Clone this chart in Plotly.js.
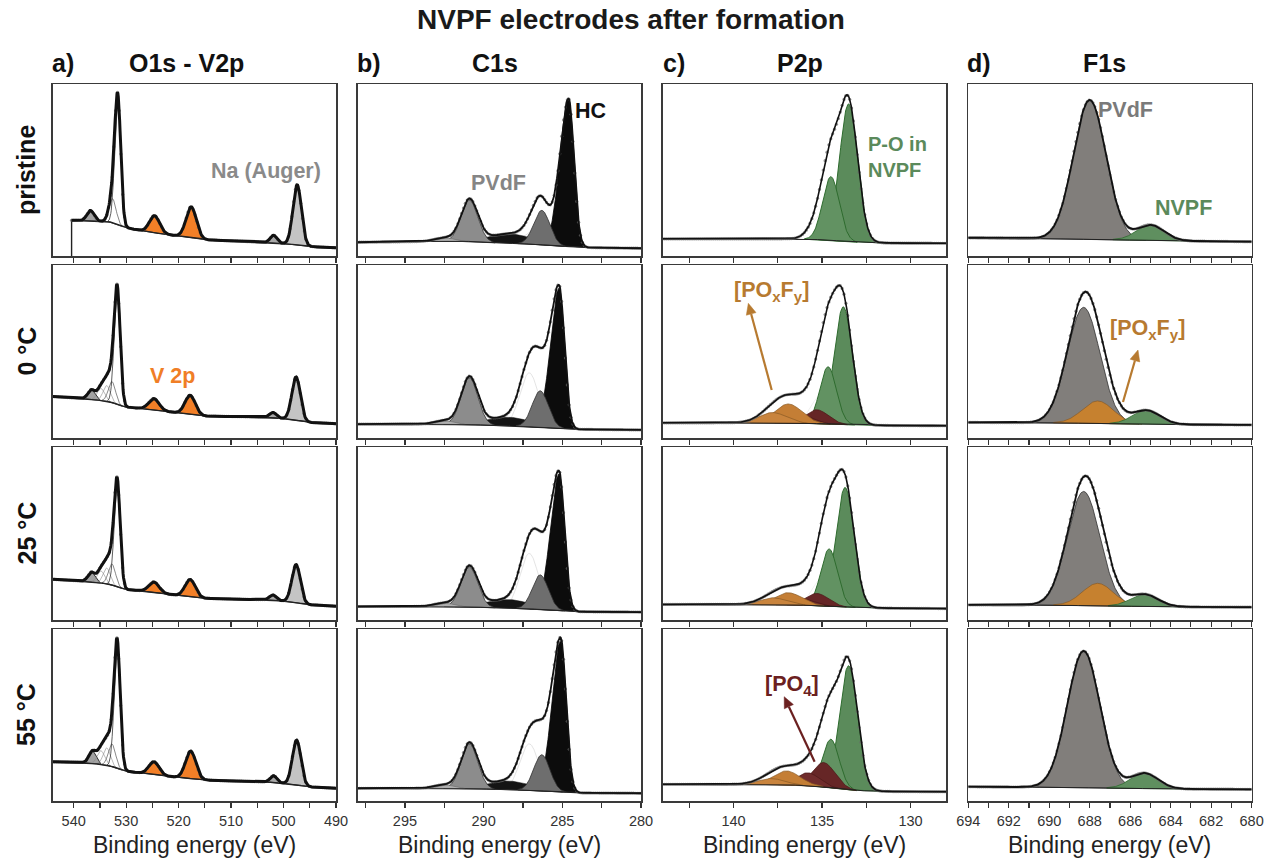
<!DOCTYPE html>
<html>
<head>
<meta charset="utf-8">
<script src="https://cdn.plot.ly/plotly-3.0.1.min.js"></script>
<style>
  html, body { margin: 0; padding: 0; background: #ffffff; }
  #chart { width: 1276px; height: 863px; }
</style>
</head>
<body>
<div id="chart"></div>
<script>
// ---------------- DATA ----------------
const ROW_LABELS = ["pristine", "0 °C", "25 °C", "55 °C"];
const PANEL_LETTERS = ["a)", "b)", "c)", "d)"];
const PANEL_TITLES = ["O1s - V2p", "C1s", "P2p", "F1s"];

const X_RANGES = [[544, 490], [298, 280], [144, 128], [694, 680]];
const X_TICKS_O1S = [540, 530, 520, 510, 500, 490];
const X_TICKS_C1S = [295, 290, 285, 280];
const X_TICKS_P2P = [140, 135, 130];
const X_TICKS_F1S = [694, 692, 690, 688, 686, 684, 682, 680];

// ---- O1s - V2p (binding energy eV, intensity as fraction of panel height) ----
const O1S_COMPONENTS = ["O1s satellite", "O1s c3", "O1s c2", "O1s c1", "O1s main", "V 2p1/2", "V 2p3/2", "Na KLL minor", "Na KLL"];
const O1S_CENTERS = [
  [536.8, 534.8, 533.7, 532.6, 531.6, 524.6, 517.6, 501.9, 497.4],
  [536.6, 534.8, 533.7, 532.7, 531.7, 524.7, 517.8, 502.0, 497.6],
  [536.6, 534.8, 533.7, 532.7, 531.7, 524.7, 517.8, 502.0, 497.6],
  [536.4, 534.8, 533.7, 532.7, 531.7, 524.7, 517.7, 501.9, 497.5]
];
const O1S_HEIGHTS = [
  [0.06, 0.00, 0.00, 0.14, 0.72, 0.10, 0.18, 0.045, 0.35],
  [0.055, 0.07, 0.09, 0.12, 0.65, 0.065, 0.11, 0.03, 0.25],
  [0.055, 0.07, 0.09, 0.12, 0.59, 0.06, 0.10, 0.03, 0.22],
  [0.07, 0.08, 0.10, 0.13, 0.71, 0.075, 0.16, 0.04, 0.26]
];
const O1S_FWHM = [1.6, 1.6, 1.6, 1.6, 1.35, 2.3, 2.3, 1.5, 1.9];
const O1S_BG_E = [544, 537, 533, 530.5, 526, 521, 515, 508, 503, 499, 495, 490];
const O1S_BG_I = [
  [0.21, 0.205, 0.198, 0.168, 0.14, 0.12, 0.095, 0.085, 0.078, 0.07, 0.055, 0.048],
  [0.24, 0.225, 0.21, 0.18, 0.168, 0.148, 0.127, 0.123, 0.12, 0.11, 0.09, 0.083],
  [0.235, 0.222, 0.207, 0.178, 0.165, 0.145, 0.125, 0.12, 0.117, 0.107, 0.088, 0.08],
  [0.228, 0.222, 0.205, 0.176, 0.158, 0.14, 0.122, 0.115, 0.11, 0.10, 0.082, 0.074]
];
const O1S_START = [540.4, 544, 544, 544];

// ---- C1s ----
const C1S_COMPONENTS = ["C-O", "C=O tail", "HC", "PVdF CH2", "PVdF CF2", "CF3"];
const C1S_CENTERS = [
  [286.8, 288.3, 284.6, 286.3, 290.9, 292.5],
  [287.1, 288.4, 285.2, 286.4, 290.9, 292.5],
  [287.1, 288.4, 285.2, 286.4, 290.9, 292.5],
  [287.1, 288.4, 285.1, 286.3, 290.9, 292.5]
];
const C1S_HEIGHTS = [
  [0.08, 0.055, 0.86, 0.20, 0.24, 0.02],
  [0.31, 0.05, 0.81, 0.21, 0.27, 0.02],
  [0.32, 0.05, 0.79, 0.20, 0.23, 0.02],
  [0.27, 0.05, 0.88, 0.21, 0.26, 0.02]
];
const C1S_FWHM_LOW = [1.4, 3.2, 0.8, 1.2, 1.25, 1.5];
const C1S_FWHM_HIGH = [1.4, 3.2, 1.3, 1.2, 1.25, 1.5];
const C1S_BG_E = [298, 293, 291, 289, 287, 285.5, 284, 280];
const C1S_BG_I = [
  [0.08, 0.085, 0.085, 0.075, 0.07, 0.06, 0.05, 0.045],
  [0.08, 0.08, 0.078, 0.072, 0.066, 0.058, 0.05, 0.047],
  [0.078, 0.078, 0.076, 0.07, 0.064, 0.056, 0.048, 0.046],
  [0.074, 0.074, 0.072, 0.068, 0.062, 0.055, 0.047, 0.045]
];

// ---- P2p ----
const P2P_COMPONENTS = ["P2p unfilled", "NVPF 2p3/2", "NVPF 2p1/2", "PO4 1", "PO4 2", "POxFy 1", "POxFy 2"];
const P2P_CENTERS = [
  [135.0, 133.5, 134.5, 135.2, 136.1, 136.9, 138.0],
  [135.0, 133.8, 134.66, 135.3, 136.1, 136.9, 137.8],
  [134.9, 133.7, 134.6, 135.3, 136.1, 136.9, 137.8],
  [134.9, 133.5, 134.5, 134.9, 135.8, 137.0, 137.9]
];
const P2P_HEIGHTS = [
  [0.15, 0.80, 0.37, 0.00, 0.00, 0.00, 0.00],
  [0.17, 0.68, 0.33, 0.08, 0.045, 0.11, 0.06],
  [0.17, 0.69, 0.33, 0.07, 0.035, 0.07, 0.04],
  [0.06, 0.72, 0.28, 0.14, 0.075, 0.08, 0.035]
];
const P2P_FWHM = [1.4, 1.2, 1.1, 1.5, 1.5, 1.8, 1.8];
const P2P_BG_E = [144, 140, 137, 135, 133, 131, 128];
const P2P_BG_I = [
  [0.10, 0.10, 0.10, 0.095, 0.08, 0.075, 0.074],
  [0.088, 0.088, 0.087, 0.083, 0.075, 0.072, 0.071],
  [0.09, 0.09, 0.088, 0.083, 0.072, 0.068, 0.066],
  [0.097, 0.097, 0.095, 0.085, 0.06, 0.055, 0.054]
];

// ---- F1s ----
const F1S_COMPONENTS = ["PVdF", "POxFy", "NVPF"];
const F1S_CENTERS = [
  [688.0, 687.6, 685.0],
  [688.3, 687.6, 685.2],
  [688.3, 687.6, 685.3],
  [688.3, 687.6, 685.3]
];
const F1S_HEIGHTS = [
  [0.81, 0.00, 0.09],
  [0.67, 0.13, 0.08],
  [0.66, 0.13, 0.07],
  [0.795, 0.00, 0.09]
];
const F1S_FWHM = [1.9, 1.8, 1.6];
const F1S_BG_E = [694, 690, 687, 684, 680];
const F1S_BG_I = [
  [0.106, 0.10, 0.095, 0.088, 0.083],
  [0.09, 0.088, 0.083, 0.078, 0.076],
  [0.088, 0.086, 0.081, 0.076, 0.074],
  [0.083, 0.08, 0.075, 0.07, 0.068]
];

// ---------------- STYLES / LAYOUT ----------------
const FONT = "Liberation Sans, Arial, sans-serif";
const W = 1276, H = 863;
const COL_X = [52.7, 357.7, 662.7, 968.3];
const COL_W = 283.3;
const ROW_Y = [[84, 256], [265, 438], [447, 620], [629, 801]];

const STYLE = {
  "O1s satellite": {fill: "#a2a2a2", line: "#2a2a2a", w: 1},
  "O1s c3": {fill: "rgba(255,255,255,0)", line: "#8c8c8c", w: 0.6},
  "O1s c2": {fill: "rgba(255,255,255,0)", line: "#8c8c8c", w: 0.6},
  "O1s c1": {fill: "rgba(255,255,255,0)", line: "#555555", w: 0.7},
  "O1s main": {fill: "rgba(255,255,255,0)", line: "#333333", w: 0.8},
  "V 2p1/2": {fill: "#f27f27", line: "#2a2a2a", w: 1},
  "V 2p3/2": {fill: "#f27f27", line: "#2a2a2a", w: 1},
  "Na KLL minor": {fill: "#a8a8a8", line: "#2a2a2a", w: 1},
  "Na KLL": {fill: "#c4c4c4", line: "#2a2a2a", w: 1},
  "C-O": {fill: "#ffffff", line: "#d2d2d2", w: 0.6},
  "C=O tail": {fill: "#141414", line: "#141414", w: 0.5},
  "HC": {fill: "#0c0c0c", line: "#000000", w: 0.8},
  "PVdF CH2": {fill: "#6e6e6e", line: "#303030", w: 0.8},
  "PVdF CF2": {fill: "#8c8c8c", line: "#303030", w: 0.8},
  "CF3": {fill: "#b0b0b0", line: "#666666", w: 0.6},
  "P2p unfilled": {fill: "#ffffff", line: "#e0e0e0", w: 0.5},
  "NVPF 2p3/2": {fill: "#5b8b5b", line: "#2e6b2e", w: 1},
  "NVPF 2p1/2": {fill: "#629262", line: "#2e6b2e", w: 1},
  "PO4 1": {fill: "#662626", line: "#4a1717", w: 0.7},
  "PO4 2": {fill: "#702c2c", line: "#4a1717", w: 0.7},
  "POxFy 1": {fill: "#c47e35", line: "#8a5a25", w: 0.7},
  "POxFy 2": {fill: "#c9843d", line: "#8a5a25", w: 0.7},
  "PVdF": {fill: "#817e7b", line: "#303030", w: 0.8},
  "POxFy": {fill: "#c6812f", line: "#8a5a25", w: 0.7},
  "NVPF": {fill: "#5f8f5f", line: "#2e6b2e", w: 0.8}
};
const ENV_WIDTH = [3, 1.8, 1.6, 1.8];
const BG_WIDTH = [1.4, 1, 1, 1];

// ---------------- helpers ----------------
function interp(x, xs, ys) {
  if (x >= xs[0]) return ys[0];
  for (let i = 1; i < xs.length; i++) {
    if (x >= xs[i]) {
      const t = (x - xs[i - 1]) / (xs[i] - xs[i - 1]);
      return ys[i - 1] + t * (ys[i] - ys[i - 1]);
    }
  }
  return ys[ys.length - 1];
}
function peak(x, c, h, wLow, wHigh) {
  const w = x > c ? wHigh : wLow;
  return h * Math.exp(-4 * Math.LN2 * (x - c) * (x - c) / (w * w));
}

const COLUMNS = [
  {names: O1S_COMPONENTS, c: O1S_CENTERS, h: O1S_HEIGHTS, wl: O1S_FWHM, wh: O1S_FWHM, bgE: O1S_BG_E, bgI: O1S_BG_I, ticks: X_TICKS_O1S, minor: 5},
  {names: C1S_COMPONENTS, c: C1S_CENTERS, h: C1S_HEIGHTS, wl: C1S_FWHM_LOW, wh: C1S_FWHM_HIGH, bgE: C1S_BG_E, bgI: C1S_BG_I, ticks: X_TICKS_C1S, minor: 2.5},
  {names: P2P_COMPONENTS, c: P2P_CENTERS, h: P2P_HEIGHTS, wl: P2P_FWHM, wh: P2P_FWHM, bgE: P2P_BG_E, bgI: P2P_BG_I, ticks: X_TICKS_P2P, minor: 2.5},
  {names: F1S_COMPONENTS, c: F1S_CENTERS, h: F1S_HEIGHTS, wl: F1S_FWHM, wh: F1S_FWHM, bgE: F1S_BG_E, bgI: F1S_BG_I, ticks: X_TICKS_F1S, minor: 1}
];

const traces = [];
const layout = {
  width: W, height: H,
  margin: {l: 0, r: 0, t: 0, b: 0},
  paper_bgcolor: "#ffffff", plot_bgcolor: "#ffffff",
  showlegend: false,
  font: {family: FONT, color: "#222"},
  annotations: [],
  shapes: []
};

for (let r = 0; r < 4; r++) {
  for (let col = 0; col < 4; col++) {
    const n = r * 4 + col + 1;
    const xa = "x" + (n === 1 ? "" : n), ya = "y" + (n === 1 ? "" : n);
    const C = COLUMNS[col];
    const range = X_RANGES[col];
    const start = col === 0 ? O1S_START[r] : range[0];
    const end = range[1];
    const N = 600;
    const xs = [];
    for (let i = 0; i <= N; i++) xs.push(start + (end - start) * i / N);
    const bg = xs.map(x => interp(x, C.bgE, C.bgI[r]));
    const env = bg.slice();
    C.names.forEach((name, k) => {
      const h = C.h[r][k];
      if (h <= 0) return;
      const vals = xs.map(x => peak(x, C.c[r][k], h, C.wl[k], C.wh[k]));
      vals.forEach((v, i) => env[i] += v);
      const px = [], py = [], idx = [];
      vals.forEach((v, i) => { if (v > 0.002) idx.push(i); });
      idx.forEach(i => { px.push(xs[i]); py.push(bg[i] + vals[i]); });
      for (let j = idx.length - 1; j >= 0; j--) { px.push(xs[idx[j]]); py.push(bg[idx[j]]); }
      const st = STYLE[name];
      traces.push({
        type: "scatter", mode: "lines", x: px, y: py, xaxis: xa, yaxis: ya,
        fill: "toself", fillcolor: st.fill,
        line: {color: st.line, width: st.w}, hoverinfo: "skip", name: name
      });
    });
    const bx = xs.slice(), by = bg.slice();
    if (col === 0 && start < range[0]) { bx.unshift(start); by.unshift(0); }
    traces.push({type: "scatter", mode: "lines", x: bx, y: by, xaxis: xa, yaxis: ya,
      line: {color: "#222", width: BG_WIDTH[col]}, hoverinfo: "skip"});
    const dx = [], dy = [];
    xs.forEach((x, i) => { if (i % 4 === 0) { dx.push(x); dy.push(env[i]); } });
    traces.push({type: "scatter", mode: "markers", x: dx, y: dy, xaxis: xa, yaxis: ya,
      marker: {color: "rgba(105,105,105,0.75)", size: 3.2}, hoverinfo: "skip"});
    traces.push({type: "scatter", mode: "lines", x: xs, y: env, xaxis: xa, yaxis: ya,
      line: {color: "#111", width: ENV_WIDTH[col]}, hoverinfo: "skip"});

    const x0 = COL_X[col] / W, x1 = (COL_X[col] + COL_W) / W;
    const y0 = 1 - ROW_Y[r][1] / H, y1 = 1 - ROW_Y[r][0] / H;
    layout["xaxis" + (n === 1 ? "" : n)] = {
      domain: [x0, x1], anchor: ya, range: range, autorange: false,
      tickmode: "array", tickvals: C.ticks, ticktext: C.ticks.map(String),
      ticks: "outside", ticklen: 5, tickwidth: 1.2, tickcolor: "#333",
      minor: {dtick: C.minor, tick0: 0, ticks: "outside", ticklen: 5, tickwidth: 1.2, tickcolor: "#333", showgrid: false},
      showticklabels: r === 3, ticklabelstandoff: 1,
      tickfont: {family: FONT, size: 14.5, color: "#333"},
      showline: true, mirror: true, linecolor: "#3a3a3a", linewidth: 1.5,
      showgrid: false, zeroline: false, fixedrange: true
    };
    layout["yaxis" + (n === 1 ? "" : n)] = {
      domain: [y0, y1], anchor: xa, range: [0, 1], autorange: false,
      showticklabels: false, ticks: "", showline: true, mirror: true,
      linecolor: "#3a3a3a", linewidth: 1.5, showgrid: false, zeroline: false, fixedrange: true
    };
  }
}

// ---------------- text ----------------
const A = layout.annotations;
function txt(text, px, py, size, color, extra) {
  A.push(Object.assign({text: text, x: px / W, y: 1 - py / H, xref: "paper", yref: "paper",
    showarrow: false, xanchor: "center", yanchor: "middle",
    font: {family: FONT, size: size, color: color}}, extra || {}));
}
function arrow(tx, ty, hx, hy, color) {
  const L = Math.hypot(hx - tx, hy - ty);
  const ux = (hx - tx) / L, uy = (hy - ty) / L;
  const bxp = hx - ux * 11, byp = hy - uy * 11;
  const nx = -uy, ny = ux;
  const P = (x, y) => (x / W) + "," + (1 - y / H);
  layout.shapes.push({type: "line", xref: "paper", yref: "paper",
    x0: tx / W, y0: 1 - ty / H, x1: bxp / W, y1: 1 - byp / H, line: {color: color, width: 2.2}});
  layout.shapes.push({type: "path", xref: "paper", yref: "paper",
    path: "M" + P(hx, hy) + " L" + P(bxp + nx * 5, byp + ny * 5) + " L" + P(bxp - nx * 5, byp - ny * 5) + " Z",
    fillcolor: color, line: {color: color, width: 0.5}});
}
txt("<b>NVPF electrodes after formation</b>", 631, 20, 28, "#1a1a1a");
const HEAD_LETTER_X = [63, 369, 674, 979];
const HEAD_TITLE_X = [187, 495, 800, 1104];
for (let c = 0; c < 4; c++) {
  txt("<b>" + PANEL_LETTERS[c] + "</b>", HEAD_LETTER_X[c], 63, 25, "#111");
  txt("<b>" + PANEL_TITLES[c] + "</b>", HEAD_TITLE_X[c], 63, 25, "#111");
  txt("Binding energy (eV)", (COL_X[c] + COL_W / 2), 845, 23, "#222");
}
for (let r = 0; r < 4; r++) {
  txt("<b>" + ROW_LABELS[r] + "</b>", 26, (ROW_Y[r][0] + ROW_Y[r][1]) / 2, 25, "#111", {textangle: -90});
}
txt("<b>Na (Auger)</b>", 266, 171, 21.5, "#8a8a8a");
txt("<b>V 2p</b>", 172, 376, 21.5, "#f07e26");
txt("<b>PVdF</b>", 498, 183, 21.5, "#858585");
txt("<b>HC</b>", 590, 111, 21.5, "#111");
txt("<b>P-O in<br>NVPF</b>", 897, 157, 20, "#5b8a5b", {align: "left"});
txt("<b>PVdF</b>", 1125, 110, 21.5, "#7a7a7a");
txt("<b>NVPF</b>", 1183, 208, 21.5, "#5b8a5b");
txt("<b>[PO<sub>x</sub>F<sub>y</sub>]</b>", 771, 291, 21.5, "#b77a30");
arrow(771.7, 390, 748.3, 303.3, "#b77a30");
txt("<b>[PO<sub>x</sub>F<sub>y</sub>]</b>", 1147, 330, 21.5, "#b77a30");
arrow(1123, 402, 1138, 350, "#b77a30");
txt("<b>[PO<sub>4</sub>]</b>", 792, 685, 21.5, "#6b2020");
arrow(814.6, 761.7, 784.2, 696.7, "#6b2020");

Plotly.newPlot("chart", traces, layout, {staticPlot: true, displayModeBar: false});
</script>
</body>
</html>
